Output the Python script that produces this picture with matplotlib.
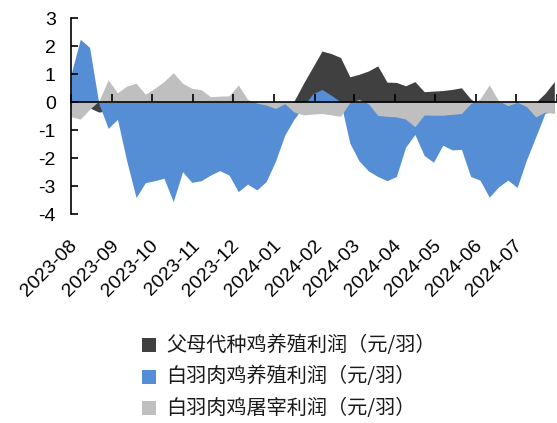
import matplotlib
matplotlib.use('Agg')
import matplotlib.pyplot as plt
import matplotlib.transforms as mtransforms
from matplotlib.patches import Rectangle
import pandas as pd
import numpy as np

# ---------------- data ----------------
dates = pd.date_range('2023-08-01', periods=53, freq='7D')

parent_profit = [-0.2, -0.2, -0.2, -0.35, -0.3, -0.3, -0.4, -0.4, -0.4, -0.4,
                 -0.4, -0.4, -0.4, -0.4, -0.4, -0.4, -0.4, -0.4, -0.4, -0.4,
                 -0.4, -0.4, -0.4, -0.3, 0.05, 0.67, 1.25, 1.83, 1.74, 1.6,
                 0.91, 1.0, 1.12, 1.3, 0.72, 0.71, 0.59, 0.74, 0.38, 0.4,
                 0.42, 0.46, 0.52, 0.12, -0.1, -0.3, -0.3, -0.3, -0.3, -0.2,
                 0.0, 0.32, 0.74]

broiler_profit = [1.0, 2.25, 1.96, -0.05, -0.93, -0.61, -2.1, -3.4, -2.87, -2.8,
                  -2.71, -3.55, -2.48, -2.86, -2.8, -2.6, -2.44, -2.6, -3.19, -2.92,
                  -3.13, -2.83, -2.1, -1.17, -0.6, -0.15, 0.3, 0.46, 0.25, 0.02,
                  -1.46, -2.1, -2.45, -2.65, -2.8, -2.65, -1.6, -1.15, -1.9, -2.14,
                  -1.53, -1.7, -1.68, -2.65, -2.78, -3.39, -3.02, -2.78, -3.04, -2.06,
                  -1.23, -0.39, -0.34]

slaughter_profit = [-0.51, -0.6, -0.25, 0.05, 0.8, 0.34, 0.58, 0.68, 0.29, 0.5,
                    0.74, 1.06, 0.68, 0.5, 0.45, 0.2, 0.22, 0.23, 0.62, 0.1,
                    -0.03, -0.1, -0.22, -0.05, -0.35, -0.45, -0.42, -0.4, -0.45, -0.5,
                    0.0, 0.1, -0.05, -0.47, -0.5, -0.52, -0.6, -0.87, -0.45, -0.46,
                    -0.46, -0.43, -0.4, -0.05, 0.12, 0.62, 0.05, -0.12, 0.0, -0.15,
                    -0.52, -0.35, -0.4]

series_names = ['父母代种鸡养殖利润（元/羽）',
                '白羽肉鸡养殖利润（元/羽）',
                '白羽肉鸡屠宰利润（元/羽）']
series_colors = ['#404040', '#558ED5', '#BFBFBF']

month_labels = ['2023-08', '2023-09', '2023-10', '2023-11', '2023-12', '2024-01',
                '2024-02', '2024-03', '2024-04', '2024-05', '2024-06', '2024-07']
y_ticks = [3, 2, 1, 0, -1, -2, -3, -4]

# ---------------- figure ----------------
W, H = 557, 423
fig = plt.figure(figsize=(W / 100, H / 100), dpi=100)
ax = fig.add_axes([71 / W, 1 - 214.3 / H, (W - 71) / W, (214.3 - 18.3) / H])

values = [parent_profit, broiler_profit, slaughter_profit]
for i, (vals, col) in enumerate(zip(values, series_colors)):
    ax.fill_between(dates, 0, vals, color=col, linewidth=0, zorder=1 + i * 0.1)

ax.set_xlim(pd.Timestamp('2023-08-01'), pd.Timestamp('2024-08-01'))
ax.set_ylim(-4, 3)

# spines
for s in ['top', 'right']:
    ax.spines[s].set_visible(False)
ax.spines['left'].set_linewidth(1.2)
ax.spines['left'].set_color('black')
ax.spines['bottom'].set_position(('data', 0))
ax.spines['bottom'].set_linewidth(1.2)
ax.spines['bottom'].set_color('black')

# x ticks on zero line, pointing up, no labels there
month_ticks = pd.date_range('2023-08-01', '2024-08-01', freq='MS')
ax.set_xticks(month_ticks)
ax.tick_params(axis='x', direction='in', length=5.8, width=1.2, color='black',
               labelbottom=False)

# y ticks
ax.set_yticks(y_ticks)
ax.set_yticklabels([str(v) for v in y_ticks], family='Liberation Sans', fontsize=14)
ax.tick_params(axis='y', direction='in', length=5, width=1.2, color='black', pad=11)

# month labels at the bottom, rotated
offset = mtransforms.ScaledTranslation(4 / 100, -29 / 100, fig.dpi_scale_trans)
trans = ax.get_xaxis_transform() + offset
for d, lab in zip(month_ticks[:len(month_labels)], month_labels):
    ax.text(d, 0, lab, transform=trans, rotation=45, rotation_mode='anchor',
            ha='right', va='center', fontsize=14, family='Liberation Sans',
            color='black')

# legend (manual, in figure pixel space)
row_y = [345, 376.7, 408]
for name, col, yc in zip(series_names, series_colors, row_y):
    sq = 14
    fig.add_artist(Rectangle((141.7 / W, 1 - (yc + sq / 2) / H), sq / W, sq / H,
                             transform=fig.transFigure, facecolor=col,
                             edgecolor='none'))
    fig.text(166 / W, 1 - yc / H, name, ha='left', va='center', fontsize=14.5,
             family=['Noto Sans CJK SC', 'DejaVu Sans'], color='#1a1a1a')

fig.savefig('out.png', dpi=100)
